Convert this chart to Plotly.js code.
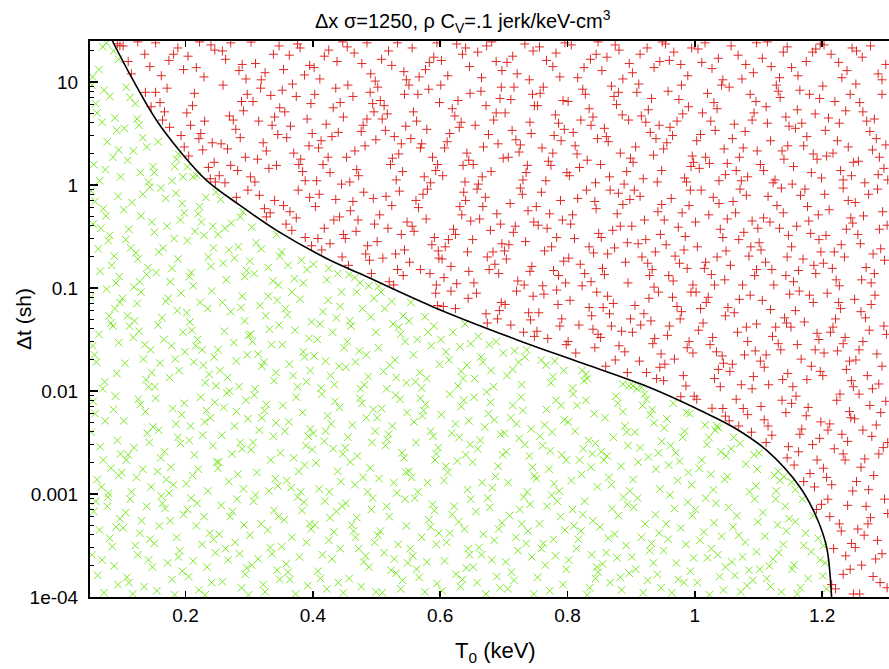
<!DOCTYPE html>
<html>
<head>
<meta charset="utf-8">
<script src="https://cdn.plot.ly/plotly-3.0.1.min.js"></script>
<style>
  html, body { margin: 0; padding: 0; background: #fff; }
  #chart { width: 889px; height: 669px; }
</style>
</head>
<body>
<div id="chart"></div>
<script>
// Sampled (T0 [keV], Δt [sh]) pairs below the stability boundary (green x)
const belowPts = [
  // T0 0.05-0.10
  [.053,2.57e-4],[.077,7.59e-4],[.094,1.32e-4],[.065,4.47e-4],[.088,2e-4],[.059,8.51e-4],[.081,3.72e-4],[.072,1.1e-4],[.097,5.75e-4],[.062,1.62e-4],[.085,3.09e-4],[.056,6.76e-4],[.091,4.79e-4],[.069,2.29e-4],[.078,9.33e-4],
  [.068,1.17e-3],[.093,3.31e-3],[.055,7.94e-3],[.083,1.78e-3],[.074,5.13e-3],[.098,2.45e-3],[.061,1.38e-3],[.087,6.61e-3],[.052,3.98e-3],[.079,1.02e-3],[.066,2.88e-3],[.090,8.91e-3],[.071,2.14e-3],[.058,6.03e-3],[.095,1.51e-3],
  [.086,.0427],[.060,.0191],[.097,.0724],[.073,.0123],[.054,.0275],[.080,.0537],[.064,.0355],[.092,.0148],[.076,.0977],[.057,.0224],[.089,.0631],[.070,.0105],[.083,.0457],[.051,.0813],[.095,.0295],
  [.063,.24],[.091,.112],[.075,.501],[.052,.871],[.084,.166],[.067,.38],[.096,.129],[.058,.692],[.079,.288],[.071,.589],[.088,.204],[.055,.417],[.094,.776],[.066,.145],[.081,.324],
  [.077,2.63],[.059,6.17],[.098,1.2],[.069,4.07],[.086,1.86],[.053,9.33],[.092,3.39],[.074,1.41],[.061,5.01],[.095,2.19],[.081,7.24],[.056,1.58],[.089,4.47],[.065,1.1],[.072,8.32],
  [.064,13.2],[.087,20],[.054,11.2],[.076,24],[.095,16.6],[.070,21.9],
  // T0 0.10-0.15
  [.131,5.5e-4],[.108,1.55e-4],[.144,3.63e-4],[.117,1.07e-4],[.139,7.59e-4],[.125,2.57e-4],[.102,4.68e-4],[.148,1.95e-4],[.113,8.91e-4],[.135,1.26e-4],[.121,3.16e-4],[.106,6.61e-4],[.142,2.29e-4],[.128,4.17e-4],[.111,1.38e-4],
  [.119,2.82e-3],[.146,1.17e-3],[.103,5.13e-3],[.133,1.74e-3],[.126,8.32e-3],[.110,2.4e-3],[.140,3.89e-3],[.115,1.05e-3],[.137,6.31e-3],[.123,1.45e-3],[.149,4.47e-3],[.107,2.14e-3],[.129,7.41e-3],[.143,3.16e-3],[.100,1.62e-3],
  [.138,.0129],[.112,.0427],[.145,.0251],[.124,.0708],[.105,.0186],[.130,.0912],[.118,.0331],[.142,.011],[.109,.0537],[.134,.0204],[.127,.038],[.101,.0794],[.147,.0151],[.120,.0479],[.136,.0282],
  [.116,.676],[.141,.158],[.106,.295],[.128,.115],[.147,.437],[.122,.219],[.133,.813],[.111,.372],[.139,.135],[.103,.575],[.125,.191],[.144,.955],[.114,.245],[.130,.501],[.119,.102],
  [.104,3.55],[.129,1.32],[.118,2.14],[.109,1.74],[.124,4.37],[.142,1.07],[.113,7.08],[.133,2.88],[.149,1.51],[.121,6.17],[.107,8.91],[.139,2.34],[.127,3.8],
  // T0 0.15-0.20
  [.172,2.14e-4],[.197,6.31e-4],[.155,1.15e-4],[.186,3.8e-4],[.164,8.13e-4],[.179,1.48e-4],[.191,2.82e-4],[.159,4.9e-4],[.183,1.05e-4],[.168,7.24e-4],[.195,1.78e-4],[.151,3.31e-4],[.176,5.5e-4],[.189,2.45e-4],[.162,9.55e-4],
  [.158,4.17e-3],[.181,1.23e-3],[.194,5.89e-3],[.167,2.57e-3],[.177,1.82e-3],[.153,8.51e-3],[.188,3.55e-3],[.170,1.38e-3],[.198,7.59e-3],[.161,2.24e-3],[.185,4.79e-3],[.174,1.02e-3],[.192,3.09e-3],[.156,1.66e-3],[.180,6.76e-3],
  [.190,.0158],[.163,.0513],[.178,.0275],[.152,.011],[.196,.0372],[.169,.0741],[.184,.0204],[.157,.0437],[.175,.0135],[.193,.0891],[.166,.0316],[.187,.0603],[.160,.0186],[.199,.024],[.173,.0794],
  [.182,.302],[.154,.141],[.195,.661],[.171,.398],[.161,.933],[.188,.191],[.176,.115],[.198,.537],[.165,.245],[.185,.832],[.151,.347],[.179,.155],[.192,.457],[.158,.224],[.169,.741],
  [.157,2.63],[.183,1.51],[.196,1.2],[.189,2],[.179,1.1],[.186,1.78],[.151,1.32],
  // T0 0.20-0.25
  [.226,3.24e-4],[.203,7.08e-4],[.241,1.38e-4],[.217,4.9e-4],[.234,1.95e-4],[.209,9.12e-4],[.247,2.69e-4],[.221,1.17e-4],[.238,4.17e-4],[.212,2.24e-4],[.229,6.03e-4],[.205,1.58e-4],[.244,3.63e-4],[.218,8.13e-4],[.231,1.05e-4],
  [.214,2.4e-3],[.239,5.5e-3],[.201,1.26e-3],[.227,3.72e-3],[.246,7.76e-3],[.220,1.74e-3],[.235,1.07e-3],[.208,4.57e-3],[.243,2.95e-3],[.224,8.71e-3],[.211,1.51e-3],[.233,6.46e-3],[.249,2.04e-3],[.206,3.31e-3],[.230,5.01e-3],
  [.237,.0145],[.210,.0389],[.223,.0724],[.245,.0214],[.202,.0575],[.231,.012],[.216,.0275],[.241,.0933],[.228,.0178],[.207,.0468],[.248,.0112],[.219,.0316],[.235,.0631],[.213,.0191],[.226,.0251],
  [.220,.525],[.244,.245],[.206,.129],[.232,.759],[.215,.355],[.240,.162],[.225,.437],[.203,.288],[.248,.851],[.212,.105],[.236,.2],[.222,.617],[.209,.141],[.229,.324],[.243,.398],
  [.218,1.23],[.203,1.5],[.212,1.2],
  // T0 0.25-0.30
  [.263,2.95e-4],[.288,1.23e-4],[.274,6.76e-4],[.296,1.91e-4],[.253,4.07e-4],[.281,8.91e-4],[.267,2.29e-4],[.292,5.01e-4],[.258,1.41e-4],[.278,3.39e-4],[.299,1.05e-4],[.270,6.03e-4],[.285,2.63e-4],[.256,7.76e-4],[.294,1.66e-4],
  [.277,4.57e-3],[.252,2.04e-3],[.295,8.13e-3],[.268,1.32e-3],[.286,3.16e-3],[.260,6.92e-3],[.291,1.12e-3],[.273,2.45e-3],[.298,5.37e-3],[.257,3.72e-3],[.282,1.55e-3],[.265,9.55e-3],[.289,2.75e-3],[.251,1.78e-3],[.280,6.31e-3],
  [.284,.011],[.261,.038],[.297,.0224],[.271,.0589],[.254,.0158],[.289,.0832],[.276,.0295],[.266,.0135],[.293,.0479],[.258,.0724],[.280,.0195],[.299,.0347],[.269,.01],[.287,.0646],[.251,.0251],
  [.272,.427],[.296,.148],[.255,.724],[.283,.251],[.264,.12],[.290,.55],[.277,.195],[.251,.331],[.268,.234],[.286,.49],[.259,.174],[.293,.129],[.262,.38],
  // T0 0.30-0.35
  [.319,5.13e-4],[.344,1.82e-4],[.307,8.51e-4],[.333,3.02e-4],[.325,1.12e-4],[.301,3.98e-4],[.339,6.92e-4],[.314,2.34e-4],[.348,1.48e-4],[.329,4.47e-4],[.310,9.77e-4],[.336,2.63e-4],[.322,1.32e-4],[.346,6.03e-4],[.304,2.04e-4],
  [.338,3.63e-3],[.312,1.62e-3],[.327,7.41e-3],[.303,2.69e-3],[.345,1.2e-3],[.320,5.5e-3],[.334,2.14e-3],[.308,9.12e-3],[.341,1.41e-3],[.316,4.17e-3],[.349,2.51e-3],[.324,6.46e-3],[.331,1.07e-3],[.306,3.16e-3],[.342,4.9e-3],
  [.323,.0191],[.347,.0437],[.309,.0105],[.335,.0282],[.317,.0676],[.342,.0151],[.302,.0355],[.330,.0832],[.314,.0229],[.339,.0126],[.326,.0537],[.305,.0302],[.344,.0759],[.320,.0174],[.332,.0398],
  [.311,.275],[.337,.117],[.348,.204],[.304,.389],[.330,.158],[.343,.331],[.308,.138],[.319,.24],[.346,.107],[.301,.182],
  // T0 0.35-0.40
  [.379,2.45e-4],[.355,5.62e-4],[.392,1.29e-4],[.367,3.8e-4],[.386,8.32e-4],[.361,1.74e-4],[.397,4.57e-4],[.373,1.07e-4],[.351,3.09e-4],[.383,6.92e-4],[.364,1.48e-4],[.390,3.39e-4],[.376,9.33e-4],[.358,2.09e-4],[.395,5.13e-4],
  [.366,1.15e-3],[.389,2.95e-3],[.353,7.24e-3],[.378,1.66e-3],[.396,4.27e-3],[.370,2.24e-3],[.384,6.17e-3],[.359,1.35e-3],[.393,3.63e-3],[.374,8.71e-3],[.387,1.91e-3],[.362,5.01e-3],[.399,2.69e-3],[.381,1.05e-3],[.356,4.07e-3],
  [.394,.0324],[.369,.0141],[.357,.0631],[.385,.024],[.376,.011],[.398,.0468],[.363,.0182],[.380,.0776],[.352,.0282],[.390,.0123],[.372,.0389],[.360,.055],[.387,.0214],[.367,.0912],[.396,.0158],
  [.382,.186],[.371,.123],[.351,.224],[.391,.151],[.385,.112],[.361,.166],
  // T0 0.40-0.45
  [.437,6.76e-4],[.412,1.51e-4],[.425,3.55e-4],[.448,1.1e-4],[.403,5.01e-4],[.430,2.34e-4],[.419,8.51e-4],[.443,2.95e-4],[.408,1.78e-4],[.433,4.27e-4],[.422,1.2e-4],[.446,7.59e-4],[.415,2.57e-4],[.440,1.38e-4],[.427,5.89e-4],
  [.405,2e-3],[.429,4.79e-3],[.444,1.32e-3],[.418,3.24e-3],[.435,7.94e-3],[.410,1.12e-3],[.447,2.45e-3],[.423,5.75e-3],[.401,3.89e-3],[.439,1.66e-3],[.414,9.33e-3],[.432,2.75e-3],[.426,1.05e-3],[.442,6.92e-3],[.420,4.07e-3],
  [.416,.0589],[.441,.0174],[.407,.0316],[.434,.0115],[.424,.0759],[.449,.0263],[.411,.0447],[.428,.0141],[.445,.0912],[.402,.0219],[.437,.0513],[.420,.0195],[.431,.0372],[.413,.0107],[.443,.0661],
  [.439,.138],[.422,.12],[.401,.17],[.425,.155],
  // T0 0.45-0.50
  [.464,4.37e-4],[.488,1.95e-4],[.452,8.13e-4],[.476,1.26e-4],[.497,3.39e-4],[.469,5.89e-4],[.483,2.51e-4],[.457,1.51e-4],[.492,7.08e-4],[.472,2.95e-4],[.499,1.12e-4],[.461,5.01e-4],[.480,2.19e-4],[.494,9.12e-4],[.467,3.8e-4],
  [.479,1.45e-3],[.455,3.55e-3],[.495,6.61e-3],[.470,2.34e-3],[.486,1.05e-3],[.462,4.68e-3],[.490,1.78e-3],[.474,8.51e-3],[.451,2.82e-3],[.484,5.5e-3],[.466,1.23e-3],[.498,4.07e-3],[.459,2.04e-3],[.477,7.59e-3],[.493,3.16e-3],
  [.491,.0525],[.467,.0191],[.481,.0115],[.454,.0302],[.496,.0794],[.473,.0245],[.460,.0427],[.487,.0138],[.478,.0631],[.452,.017],[.499,.0372],[.469,.0912],[.484,.0224],[.458,.0479],[.475,.0105],
  [.474,.112],[.466,.126],[.457,.135],[.488,.105],
  // T0 0.50-0.55
  [.523,1.82e-4],[.547,4.9e-4],[.509,1.1e-4],[.534,3.24e-4],[.516,7.59e-4],[.541,1.45e-4],[.502,3.98e-4],[.528,2.34e-4],[.545,8.91e-4],[.512,2.69e-4],[.538,1.2e-4],[.520,6.03e-4],[.531,1.7e-4],[.506,4.37e-4],[.549,2.14e-4],
  [.537,8.32e-3],[.514,2.95e-3],[.527,1.29e-3],[.501,5.5e-3],[.543,2.24e-3],[.519,3.8e-3],[.532,1.02e-3],[.508,6.76e-3],[.546,1.62e-3],[.525,4.57e-3],[.540,2.51e-3],[.504,1.41e-3],[.530,9.12e-3],[.517,3.39e-3],[.548,6.17e-3],
  [.511,.0155],[.535,.0417],[.524,.0741],[.547,.012],[.503,.0263],[.529,.02],[.542,.0537],[.516,.0105],[.538,.0355],[.507,.0912],[.521,.0178],[.545,.0302],[.513,.0631],[.531,.0135],[.526,.0447],
  [.503,.104],
  // T0 0.55-0.60
  [.582,5.62e-4],[.557,2.51e-4],[.595,1.35e-4],[.571,3.8e-4],[.588,7.94e-4],[.563,1.86e-4],[.598,4.17e-4],[.576,1.12e-4],[.553,2.95e-4],[.591,6.92e-4],[.567,1.55e-4],[.585,4.79e-4],[.560,9.12e-4],[.579,2.19e-4],[.594,3.24e-4],
  [.565,1.05e-3],[.589,3.63e-3],[.574,6.46e-3],[.551,1.66e-3],[.597,2.82e-3],[.580,1.29e-3],[.559,5.01e-3],[.592,2.14e-3],[.569,8.51e-3],[.585,4.07e-3],[.555,1.45e-3],[.577,7.41e-3],[.594,2.45e-3],[.562,3.16e-3],[.572,5.75e-3],
  [.586,.0275],[.561,.0123],[.576,.0525],[.599,.0182],[.554,.0724],[.581,.0372],[.568,.0151],[.558,.0224],[.590,.0427],[.571,.0107],[.564,.0316],[.579,.0132],[.551,.0479],
  // T0 0.60-0.65
  [.610,3.39e-4],[.635,1.48e-4],[.622,7.59e-4],[.646,2.57e-4],[.603,1.15e-4],[.629,5.37e-4],[.641,1.91e-4],[.615,4.17e-4],[.648,8.91e-4],[.607,2.24e-4],[.632,1.26e-4],[.619,6.31e-4],[.644,2.95e-4],[.625,1.66e-4],[.638,4.57e-4],
  [.627,2.09e-3],[.602,5.89e-3],[.643,1.1e-3],[.618,3.89e-3],[.637,8.13e-3],[.612,1.62e-3],[.647,3.02e-3],[.624,4.79e-3],[.606,1.35e-3],[.633,7.08e-3],[.640,2.4e-3],[.615,9.33e-3],[.630,3.55e-3],[.609,1.86e-3],[.645,5.13e-3],
  [.639,.0447],[.614,.02],[.628,.0112],[.648,.0288],[.633,.0155],[.620,.0372],[.609,.024],[.636,.0132],[.601,.0316],[.642,.0178],[.631,.0269],
  // T0 0.65-0.70
  [.694,1.23e-4],[.668,4.07e-4],[.681,2.29e-4],[.656,6.76e-4],[.689,1.58e-4],[.675,9.12e-4],[.661,3.02e-4],[.697,5.25e-4],[.672,1.07e-4],[.685,3.55e-4],[.652,1.95e-4],[.678,7.41e-4],[.665,2.57e-4],[.692,4.57e-4],[.658,1.38e-4],
  [.663,3.31e-3],[.687,1.48e-3],[.676,6.03e-3],[.698,2.4e-3],[.653,8.71e-3],[.682,1.15e-3],[.670,4.47e-3],[.691,1.86e-3],[.659,2.75e-3],[.679,7.76e-3],[.695,3.8e-3],[.666,1.29e-3],[.685,5.25e-3],[.651,2.04e-3],[.673,9.77e-3],
  [.677,.0282],[.654,.0132],[.667,.0191],[.660,.0339],[.684,.011],[.699,.0234],[.680,.0158],[.664,.0214],[.688,.0302],
  // T0 0.70-0.75
  [.728,5.13e-4],[.703,2.19e-4],[.741,7.94e-4],[.716,1.45e-4],[.735,3.31e-4],[.709,6.17e-4],[.747,1.07e-4],[.722,2.82e-4],[.738,4.37e-4],[.712,1.74e-4],[.731,9.33e-4],[.744,2.45e-4],[.719,3.8e-4],[.706,1.2e-4],[.725,7.08e-4],
  [.745,1.82e-3],[.720,4.79e-3],[.707,1.29e-3],[.733,3.02e-3],[.714,7.24e-3],[.740,2.34e-3],[.701,3.89e-3],[.727,8.71e-3],[.748,1.51e-3],[.711,5.5e-3],[.737,1.05e-3],[.724,3.47e-3],[.704,2.57e-3],[.730,6.46e-3],[.743,4.27e-3],
  [.717,.0245],[.705,.0141],[.723,.0191],[.736,.0251],[.728,.0115],[.714,.0162],[.733,.0214],
  // T0 0.75-0.80
  [.784,8.51e-4],[.759,2.95e-4],[.772,1.15e-4],[.796,4.47e-4],[.765,2.04e-4],[.789,6.03e-4],[.753,1.55e-4],[.778,3.63e-4],[.793,1.32e-4],[.768,7.59e-4],[.781,2.51e-4],[.756,5.13e-4],[.798,1.86e-4],[.775,9.77e-4],[.762,3.31e-4],
  [.751,1.41e-3],[.776,3.98e-3],[.791,2.4e-3],[.767,6.61e-3],[.787,1.07e-3],[.761,2.95e-3],[.795,5.25e-3],[.771,1.74e-3],[.782,8.13e-3],[.757,3.63e-3],[.798,2.14e-3],[.779,1.26e-3],[.764,4.68e-3],[.790,7.24e-3],[.773,2.63e-3],
  [.794,.0158],[.780,.0195],[.774,.012],[.759,.02],[.777,.0138],[.766,.0178],
  // T0 0.80-0.85
  [.821,4.37e-4],[.846,1.95e-4],[.808,7.08e-4],[.835,1.23e-4],[.814,2.95e-4],[.840,5.5e-4],[.802,2.29e-4],[.827,8.51e-4],[.844,1.51e-4],[.817,3.63e-4],[.831,1.05e-4],[.810,4.9e-4],[.838,2.57e-4],[.824,6.31e-4],[.848,1.74e-4],
  [.833,3.31e-3],[.806,1.35e-3],[.842,6.03e-3],[.819,2.14e-3],[.829,8.13e-3],[.812,4.07e-3],[.847,1.17e-3],[.825,2.75e-3],[.801,5.01e-3],[.837,1.82e-3],[.815,7.24e-3],[.844,3.09e-3],[.822,1.55e-3],[.809,9.33e-3],[.839,2.45e-3],
  [.826,.0126],[.831,.0132],[.808,.0107],[.823,.0158],[.829,.0145],
  // T0 0.85-0.90
  [.892,3.16e-4],[.867,1.38e-4],[.880,6.17e-4],[.855,2.09e-4],[.888,9.33e-4],[.874,4.07e-4],[.897,1.7e-4],[.861,2.69e-4],[.885,1.17e-4],[.870,7.24e-4],[.851,4.79e-4],[.878,2.4e-4],[.894,7.94e-4],[.864,3.72e-4],[.883,1.55e-4],
  [.859,5.5e-3],[.884,1.86e-3],[.872,3.55e-3],[.898,1.07e-3],[.853,2.57e-3],[.879,7.59e-3],[.890,4.57e-3],[.865,1.45e-3],[.895,2.95e-3],[.876,8.91e-3],[.857,2.14e-3],[.887,6.31e-3],[.869,1.23e-3],[.893,3.98e-3],[.862,2.34e-3],
  [.887,.0117],[.897,.0112],
  // T0 0.90-0.95
  [.916,3.8e-4],[.941,1.66e-4],[.904,7.41e-4],[.929,2.82e-4],[.947,1.23e-4],[.922,5.13e-4],[.935,2.14e-4],[.910,9.12e-4],[.944,4.17e-4],[.926,1.45e-4],[.901,2.45e-4],[.938,6.31e-4],[.919,1.1e-4],[.932,3.31e-4],[.907,1.86e-4],
  [.936,4.9e-3],[.911,2.04e-3],[.924,8.32e-3],[.948,3.24e-3],[.903,1.38e-3],[.930,5.89e-3],[.943,2.51e-3],[.918,7.24e-3],[.906,3.98e-3],[.939,1.74e-3],[.921,9.33e-3],[.945,1.12e-3],[.914,2.82e-3],[.933,6.61e-3],[.927,2.29e-3],
  [.909,.0105],[.903,.0112],[.916,.0108],
  // T0 0.95-1.00
  [.983,1.38e-4],[.958,3.63e-4],[.996,6.17e-4],[.971,2.14e-4],[.989,8.32e-4],[.964,1.1e-4],[.978,4.68e-4],[.951,2.82e-4],[.993,1.78e-4],[.968,7.24e-4],[.986,3.24e-4],[.955,5.13e-4],[.974,1.48e-4],[.998,2.4e-4],[.961,9.77e-4],
  [.970,2.51e-3],[.995,1.23e-3],[.956,5.37e-3],[.981,3.55e-3],[.966,7.59e-3],[.990,1.62e-3],[.952,4.37e-3],[.976,2.09e-3],[.962,2.95e-3],[.987,6.17e-3],[.973,1.35e-3],[.959,1.91e-3],[.984,4.07e-3],[.992,6.03e-3],
  // T0 1.00-1.05
  [1.026,2.95e-4],[1.001,7.08e-4],[1.039,1.58e-4],[1.014,4.27e-4],[1.045,1.17e-4],[1.020,2.4e-4],[1.033,8.13e-4],[1.008,3.55e-4],[1.048,1.95e-4],[1.030,5.25e-4],[1.004,1.38e-4],[1.042,3.89e-4],[1.017,9.12e-4],[1.023,1.05e-4],[1.036,2.57e-4],
  [1.011,2.14e-3],[1.035,4.57e-3],[1.047,1.38e-3],[1.022,3.55e-3],[1.029,1.1e-3],[1.041,2.57e-3],[1.016,4.68e-3],[1.007,1.78e-3],[1.019,3.02e-3],[1.032,4.17e-3],[1.049,2.34e-3],[1.025,1.55e-3],[1.037,4.37e-3],
  // T0 1.05-1.10
  [1.085,1.82e-4],[1.060,4.79e-4],[1.097,2.75e-4],[1.072,1.12e-4],[1.053,7.41e-4],[1.079,3.39e-4],[1.091,1.45e-4],[1.066,6.17e-4],[1.058,2.19e-4],[1.094,8.91e-4],[1.069,3.98e-4],[1.082,1.29e-4],[1.099,5.37e-4],[1.075,2.45e-4],[1.063,1.62e-4],
  [1.071,3.09e-3],[1.096,1.2e-3],[1.080,1.95e-3],[1.051,1.48e-3],[1.093,2.4e-3],[1.061,3.55e-3],[1.086,1.05e-3],[1.098,1.74e-3],[1.057,2.75e-3],
  // T0 1.10-1.15
  [1.107,6.61e-4],[1.132,2.69e-4],[1.119,1.26e-4],[1.144,4.37e-4],[1.102,1.86e-4],[1.127,8.91e-4],[1.139,3.24e-4],[1.113,1.51e-4],[1.148,5.75e-4],[1.123,2.34e-4],[1.136,1.12e-4],[1.110,3.89e-4],[1.142,7.59e-4],[1.117,2e-4],[1.130,5.01e-4],
  [1.140,1.48e-3],[1.128,1.07e-3],[1.134,1.35e-3],[1.101,2.51e-3],[1.125,1.51e-3],[1.131,1.66e-3],
  // T0 1.15-1.21
  [1.174,4.17e-4],[1.153,1.86e-4],[1.166,1.23e-4],[1.183,2.75e-4],[1.158,5.37e-4],[1.197,2.29e-4],[1.169,8.91e-4],[1.178,1.51e-4],[1.194,3.72e-4],[1.161,1.07e-4],[1.186,6.17e-4],[1.171,3.16e-4],[1.156,2.04e-4],
  [1.152,1.3e-3],[1.158,1.1e-3],
  [1.205,2.14e-4],[1.202,3.16e-4],[1.207,1.2e-4],[1.201,1.6e-4]
];

// Sampled (T0 [keV], Δt [sh]) pairs above the stability boundary (red +)
const abovePts = [
  // T0 0.09-0.15
  [.097,22.5],[.093,23.5],
  [.146,5.75],[.137,7.94],
  [.115,12],[.136,18.6],[.102,22.4],[.144,14.1],[.125,24.5],[.110,15.8],
  // T0 0.15-0.20
  [.167,5.13],[.175,3.63],[.153,7.94],[.164,4.27],[.193,3.02],[.160,6.31],[.171,8.71],[.198,2.34],
  [.162,11.5],[.188,21.4],[.174,16.2],[.197,13.2],[.153,24],[.181,18.6],
  // T0 0.20-0.25
  [.205,1.91],[.230,4.17],[.242,2.57],[.211,5.89],[.236,1.48],[.224,3.16],[.247,1.07],[.202,5.01],[.227,2.19],[.214,7.76],[.239,1.15],[.221,2.82],[.245,1.66],[.208,3.8],
  [.217,13.8],[.240,22.9],[.204,17.8],[.229,11.2],[.246,20.4],[.222,24.5],
  // T0 0.25-0.30
  [.298,.891],[.280,.759],
  [.266,2.24],[.291,5.25],[.253,1.23],[.279,3.47],[.297,7.59],[.271,1.55],[.286,2.88],[.259,9.33],[.294,1.86],[.275,4.27],[.262,1.05],[.288,6.46],[.282,1.38],[.256,2.51],[.269,4.68],
  [.258,20],[.284,12.9],[.271,24],[.295,10.7],[.263,16.6],[.289,14.8],
  // T0 0.30-0.35
  [.324,.589],[.316,.794],[.333,.537],[.327,.49],[.340,.708],
  [.306,6.46],[.331,1.45],[.345,3.09],[.318,8.71],[.327,2.14],[.340,4.57],[.302,1.2],[.336,3.8],[.313,1.78],[.348,5.62],[.322,2.57],[.309,1.07],[.334,7.41],[.343,1.55],[.315,4.17],
  [.325,12.3],[.347,22.4],[.310,15.1],[.338,18.6],[.303,24.4],[.319,10.5],
  // T0 0.35-0.40
  [.358,.417],[.395,.759],[.388,.309],[.364,.55],[.377,.891],[.367,.363],[.398,.257],[.354,.631],[.374,.479],
  [.384,1.35],[.359,2.88],[.397,6.17],[.370,2.04],[.391,4.37],[.352,8.32],[.378,1.58],[.365,3.72],[.388,1.1],[.374,7.24],[.394,2.4],[.356,5.13],[.381,1.78],[.368,9.55],[.399,3.16],
  [.363,18.2],[.387,11.7],[.376,23.4],[.395,14.5],[.354,13.2],[.380,21.4],
  // T0 0.40-0.45
  [.427,.269],[.404,.617],[.418,.38],[.446,.2],[.410,.813],[.433,.457],[.448,.331],[.436,.724],[.414,.234],[.442,.49],[.408,.302],
  [.421,3.89],[.445,1.02],[.409,2.29],[.432,5.62],[.416,1.58],[.440,3.24],[.403,7.59],[.427,1.32],[.448,4.57],[.413,2.69],[.436,8.71],[.424,1.86],[.406,1.1],[.443,6.31],[.430,2.95],
  [.438,15.8],[.411,10.7],[.425,20.4],[.447,24.5],[.402,13.8],[.418,17.8],
  // T0 0.45-0.50
  [.463,.692],[.486,.257],[.497,.417],[.456,.166],[.480,.851],[.468,.355],[.492,.138],[.459,.562],[.483,.214],[.451,.302],[.495,.741],[.471,.457],[.489,.186],
  [.458,1.07],[.482,2.4],[.496,5.13],[.469,1.41],[.490,7.94],[.476,3.31],[.453,1.86],[.485,4.37],[.463,7.24],[.499,2.75],[.472,1.23],[.494,6.17],[.466,2.14],[.479,3.8],[.455,9.33],
  [.477,15.1],[.454,21.9],[.491,12],[.465,19.1],[.485,24],[.498,10.2],
  // T0 0.50-0.55
  [.520,.115],[.544,.234],[.505,.513],[.533,.151],[.515,.776],[.539,.331],[.527,.107],[.548,.437],[.510,.195],[.536,.871],[.501,.282],[.524,.631],[.542,.132],[.518,.38],[.530,.214],
  [.528,2.95],[.506,6.61],[.541,1.35],[.517,4.9],[.535,2],[.502,8.91],[.546,3.72],[.522,1.58],[.512,5.89],[.539,2.51],[.531,1.12],[.509,4.37],[.544,7.59],[.525,1.82],[.514,3.39],
  [.519,20],[.543,12.6],[.508,16.6],[.533,24],[.547,10.5],[.524,14.5],
  // T0 0.55-0.60
  [.593,.0891],[.596,.0676],
  [.573,.813],[.597,.229],[.556,.398],[.584,.138],[.566,.603],[.591,.309],[.552,.178],[.578,.468],[.594,.107],[.562,.708],[.587,.263],[.569,.151],[.580,.912],[.559,.355],[.598,.195],
  [.563,4.17],[.588,1.86],[.575,1.2],[.599,6.31],[.554,2.82],[.582,8.51],[.569,2.29],[.593,1.38],[.558,5.13],[.579,3.47],[.596,1.58],[.565,7.59],[.585,1.05],[.571,2.51],[.551,9.33],
  [.577,13.2],[.556,21.4],[.590,17.4],[.567,11.2],[.595,24],[.583,15.5],
  // T0 0.60-0.65
  [.605,.0661],[.644,.0794],[.624,.0631],[.617,.0933],
  [.608,.251],[.631,.617],[.645,.145],[.621,.372],[.637,.851],[.603,.191],[.626,.11],[.648,.447],[.613,.295],[.640,.708],[.617,.162],[.634,.513],[.606,.126],[.643,.224],[.624,.331],
  [.619,5.5],[.642,2.04],[.604,1.23],[.630,3.63],[.647,7.76],[.611,2.63],[.636,1.55],[.623,4.68],[.601,9.33],[.639,1.07],[.615,3.16],[.645,1.74],[.628,6.61],[.607,2.29],[.633,4.07],
  [.635,18.6],[.612,11.5],[.626,23.4],[.646,14.1],[.602,16.2],[.640,21.4],
  // T0 0.65-0.70
  [.690,.0501],[.696,.0724],[.672,.0562],[.657,.0891],[.693,.0603],[.674,.0457],
  [.686,.17],[.662,.468],[.697,.269],[.671,.759],[.653,.112],[.679,.363],[.692,.138],[.667,.617],[.683,.224],[.658,.912],[.695,.417],[.674,.2],[.689,.525],[.651,.295],[.677,.151],
  [.655,3.8],[.680,1.35],[.694,6.92],[.668,2.34],[.688,5.01],[.660,1.02],[.676,3.09],[.699,1.82],[.664,8.13],[.684,4.27],[.652,1.58],[.672,5.89],[.691,2.51],[.666,1.2],[.696,8.91],
  [.673,22.4],[.697,12.9],[.659,19.5],[.688,15.8],[.665,11],[.681,24.5],
  // T0 0.70-0.75
  [.739,.0575],[.731,.0372],[.746,.0832],[.711,.0437],[.702,.0692],[.742,.049],[.748,.0339],[.720,.0933],
  [.710,.661],[.734,.282],[.722,.117],[.747,.437],[.704,.191],[.729,.813],[.741,.145],[.715,.347],[.738,.562],[.701,.229],[.726,.933],[.744,.162],[.718,.398],[.732,.107],[.708,.263],
  [.737,1.55],[.713,3.39],[.745,7.59],[.724,2.09],[.702,5.01],[.730,1.12],[.719,2.75],[.748,5.89],[.707,1.86],[.741,4.07],[.716,8.91],[.735,1.32],[.726,2.45],[.711,6.76],[.743,3.16],
  [.721,12],[.746,20],[.705,15.5],[.733,23.4],[.714,17.8],[.740,10.5],
  // T0 0.75-0.80
  [.769,.0324],[.755,.0575],[.763,.0871],[.788,.0427],[.798,.0282],[.785,.0692],[.752,.038],[.791,.0501],[.783,.0955],
  [.778,.148],[.754,.407],[.789,.708],[.764,.229],[.797,.112],[.772,.525],[.783,.309],[.759,.851],[.794,.182],[.768,.38],[.786,.132],[.751,.617],[.775,.251],[.792,.457],[.761,.105],
  [.795,3.47],[.770,1.7],[.757,7.76],[.781,4.79],[.766,1.1],[.790,2.69],[.753,5.89],[.777,2.04],[.799,1.32],[.762,8.91],[.786,3.98],[.774,1.55],[.760,2.29],[.793,6.61],[.779,3.02],
  [.767,16.2],[.788,11.2],[.756,21.9],[.777,14.1],[.796,24],[.782,19.1],
  // T0 0.80-0.85
  [.813,.0234],[.838,.0537],[.848,.0355],[.804,.0759],[.818,.0437],[.843,.0263],[.834,.0646],[.846,.0912],[.801,.0302],[.840,.0398],
  [.837,.115],[.811,.302],[.845,.589],[.820,.17],[.830,.891],[.805,.417],[.841,.219],[.816,.741],[.827,.138],[.849,.339],[.808,.513],[.834,.251],[.823,.105],[.802,.195],[.843,.692],
  [.815,2],[.840,4.57],[.803,1.23],[.828,7.59],[.847,2.82],[.819,1.48],[.834,5.5],[.809,3.24],[.844,1.05],[.824,8.51],[.812,2.4],[.837,3.8],[.801,6.46],[.831,1.74],[.821,4.27],
  [.826,13.8],[.806,22.9],[.845,18.6],[.816,11],[.836,16.6],[.848,24.5],
  // T0 0.85-0.90
  [.881,.0275],[.856,.0646],[.894,.0151],[.869,.0427],[.863,.0832],[.875,.02],[.899,.0501],[.852,.0331],[.890,.024],[.872,.0708],[.860,.0174],[.885,.038],[.866,.0562],
  [.874,.245],[.898,.724],[.858,.135],[.883,.398],[.867,.891],[.891,.178],[.853,.309],[.878,.525],[.895,.112],[.863,.214],[.887,.646],[.871,.363],[.855,.155],[.880,.832],[.894,.275],
  [.889,1.02],[.864,2.63],[.877,6.03],[.852,1.58],[.896,4.27],[.869,9.12],[.883,2.04],[.858,3.55],[.893,1.35],[.873,7.24],[.861,2.95],[.886,4.79],[.899,1.82],[.866,1.2],[.880,7.94],
  [.862,17.4],[.887,10.7],[.875,22.9],[.897,15.1],[.854,12.9],[.881,20.4],
  // T0 0.90-0.95
  [.934,.0288],[.920,.0562],[.945,.017],[.902,.0372],[.928,.0794],[.940,.0132],[.915,.0437],[.947,.0229],[.924,.0151],[.906,.0676],[.937,.0324],[.913,.0195],[.931,.0479],[.943,.0912],
  [.942,.55],[.917,.2],[.905,.891],[.929,.132],[.946,.331],[.921,.457],[.936,.102],[.911,.269],[.948,.646],[.926,.174],[.901,.398],[.938,.224],[.914,.776],[.933,.151],[.923,.295],
  [.907,2.34],[.932,6.92],[.919,1.15],[.944,3.8],[.903,1.66],[.927,5.37],[.939,2.82],[.912,9.55],[.948,1.38],[.923,4.07],[.935,1.95],[.909,7.94],[.941,1.07],[.916,4.68],[.930,3.24],
  [.925,21.4],[.902,12.3],[.945,15.8],[.914,18.6],[.936,13.8],[.949,24.5],
  // T0 0.95-1.00
  [.999,.0089],[.978,.0088],
  [.977,.0501],[.953,.0182],[.991,.0302],[.965,.0813],[.986,.0112],[.960,.0427],[.997,.0234],[.972,.0661],[.982,.0141],[.957,.0347],[.994,.0912],[.968,.0204],[.979,.0589],[.988,.0263],[.951,.0126],
  [.963,.741],[.988,.155],[.974,.389],[.997,.107],[.955,.263],[.980,.537],[.969,.204],[.993,.891],[.959,.132],[.985,.316],[.952,.457],[.976,.174],[.991,.631],[.966,.117],[.983,.234],
  [.972,4.17],[.996,1.91],[.958,8.13],[.984,1.17],[.965,3.02],[.990,5.75],[.951,2.24],[.979,9.33],[.994,1.51],[.961,3.63],[.987,1.07],[.975,6.76],[.956,2.57],[.981,4.9],[.998,1.66],
  [.989,11.5],[.967,19.5],[.954,23.4],[.978,14.8],[.995,21.4],[.960,16.2],
  // T0 1.00-1.05
  [1.003,8.32e-3],[1.044,6.76e-3],[1.027,6.8e-3],[1.048,5.7e-3],
  [1.018,.0724],[1.043,.0219],[1.006,.0389],[1.031,.0132],[1.048,.0537],[1.024,.0282],[1.002,.0912],[1.037,.0162],[1.013,.0457],[1.040,.011],[1.028,.0331],[1.009,.0631],[1.045,.0186],[1.021,.0813],[1.034,.024],
  [1.040,.372],[1.015,.155],[1.029,.759],[1.004,.251],[1.047,.12],[1.022,.513],[1.035,.2],[1.010,.891],[1.044,.309],[1.026,.135],[1.001,.437],[1.038,.661],[1.017,.178],[1.031,.107],[1.049,.229],
  [1.007,1.45],[1.032,3.39],[1.020,7.76],[1.046,2.24],[1.012,5.01],[1.038,1.1],[1.025,4.17],[1.003,2.69],[1.042,9.33],[1.017,1.86],[1.030,6.31],[1.048,1.26],[1.009,3.09],[1.035,5.5],[1.023,1.62],
  [1.027,13.5],[1.005,20.9],[1.044,10.5],[1.016,24],[1.037,17],[1.011,15.5],
  // T0 1.05-1.10
  [1.054,5.13e-3],[1.065,8.32e-3],[1.089,3.98e-3],[1.076,6.76e-3],[1.069,4.57e-3],[1.083,5.89e-3],
  [1.078,.0224],[1.052,.0646],[1.092,.0138],[1.067,.0372],[1.087,.0851],[1.059,.0182],[1.097,.0447],[1.073,.0115],[1.083,.0302],[1.062,.0575],[1.095,.0245],[1.070,.0776],[1.055,.0155],[1.081,.0417],[1.090,.0105],
  [1.064,.537],[1.088,.251],[1.075,.107],[1.099,.38],[1.056,.166],[1.081,.794],[1.069,.295],[1.094,.132],[1.051,.468],[1.085,.204],[1.060,.692],[1.077,.347],[1.097,.151],[1.071,.912],[1.090,.447],
  [1.083,1.2],[1.059,2.82],[1.096,6.46],[1.070,1.86],[1.090,4.27],[1.054,8.91],[1.076,2.29],[1.065,1.38],[1.093,5.01],[1.079,3.31],[1.051,1.62],[1.087,7.59],[1.062,3.89],[1.098,2.14],[1.073,1.1],
  [1.068,18.2],[1.092,12.3],[1.057,22.4],[1.080,14.8],[1.097,24],[1.074,10.7],
  // T0 1.10-1.15
  [1.115,4.57e-3],[1.147,2.88e-3],[1.104,7.08e-3],[1.121,3.72e-3],[1.145,2.24e-3],[1.109,5.25e-3],[1.137,8.13e-3],[1.143,6.17e-3],[1.112,3.16e-3],
  [1.122,.0339],[1.146,.0148],[1.106,.0759],[1.135,.0251],[1.116,.0115],[1.141,.0513],[1.103,.0195],[1.127,.0417],[1.149,.0871],[1.112,.0224],[1.138,.0129],[1.119,.0617],[1.131,.0288],[1.109,.017],[1.144,.0457],
  [1.129,.631],[1.104,.234],[1.143,.132],[1.118,.437],[1.136,.933],[1.111,.178],[1.147,.324],[1.124,.107],[1.139,.537],[1.101,.275],[1.133,.38],[1.115,.776],[1.145,.2],[1.121,.151],[1.108,.479],
  [1.137,2.14],[1.112,5.75],[1.126,1.12],[1.148,3.72],[1.103,1.58],[1.131,8.13],[1.119,2.69],[1.143,4.57],[1.108,1.38],[1.134,7.08],[1.123,1.05],[1.146,2.4],[1.114,3.98],[1.140,1.78],[1.128,9.33],
  [1.120,14.1],[1.145,21.9],[1.106,17],[1.133,11],[1.114,24.5],[1.139,19.5],
  // T0 1.15-1.20
  [1.191,7.08e-4],[1.199,7.94e-4],
  [1.163,2.57e-3],[1.188,1.17e-3],[1.175,5.75e-3],[1.196,3.47e-3],[1.152,7.59e-3],[1.181,1.58e-3],[1.168,4.27e-3],[1.192,2.14e-3],[1.159,8.91e-3],[1.185,3.02e-3],[1.171,1.32e-3],[1.198,5.01e-3],[1.156,1.91e-3],[1.178,6.92e-3],[1.165,3.8e-3],
  [1.186,.0724],[1.161,.0282],[1.197,.0155],[1.172,.0468],[1.154,.011],[1.180,.0851],[1.167,.0204],[1.192,.0363],[1.158,.0603],[1.176,.0129],[1.189,.0251],[1.151,.0417],[1.183,.0174],[1.164,.0933],[1.195,.0316],
  [1.170,.191],[1.194,.513],[1.155,.115],[1.182,.339],[1.166,.794],[1.190,.138],[1.152,.251],[1.177,.617],[1.198,.224],[1.160,.398],[1.187,.166],[1.173,.912],[1.195,.295],[1.163,.148],[1.179,.447],
  [1.158,3.55],[1.183,1.32],[1.196,6.92],[1.171,2.4],[1.189,4.9],[1.153,1.02],[1.176,2.95],[1.165,8.32],[1.192,1.78],[1.161,5.37],[1.186,2],[1.199,1.17],[1.168,3.98],[1.180,7.59],[1.155,1.51],
  [1.175,15.8],[1.197,23.4],[1.162,11.5],[1.185,19.5],[1.152,13.8],[1.190,20.9],
  // T0 1.20-1.25
  [1.227,5.13e-4],[1.240,7.76e-4],[1.215,1.32e-4],[1.246,3.31e-4],[1.209,8.91e-4],[1.233,1.66e-4],[1.221,1.2e-4],[1.237,2.51e-4],[1.212,6.03e-4],[1.244,1.86e-4],[1.218,2.95e-4],[1.230,4.37e-4],[1.249,1.07e-4],
  [1.219,2.75e-3],[1.243,6.31e-3],[1.207,1.45e-3],[1.231,3.8e-3],[1.248,1.07e-3],[1.223,8.13e-3],[1.236,2.14e-3],[1.212,4.79e-3],[1.202,1.78e-3],[1.240,3.24e-3],[1.228,9.33e-3],[1.215,1.23e-3],[1.245,5.5e-3],[1.233,2.45e-3],[1.209,4.17e-3],
  [1.238,.0162],[1.213,.0372],[1.226,.0724],[1.203,.0234],[1.246,.0126],[1.221,.0501],[1.233,.0288],[1.208,.0891],[1.243,.0195],[1.217,.0417],[1.249,.011],[1.229,.0631],[1.201,.0141],[1.236,.0331],[1.224,.0245],
  [1.211,.575],[1.235,.2],[1.248,.427],[1.222,.12],[1.204,.813],[1.230,.263],[1.216,.155],[1.241,.708],[1.206,.324],[1.227,.105],[1.245,.479],[1.219,.224],[1.233,.933],[1.202,.174],[1.238,.372],
  [1.229,1.38],[1.205,3.39],[1.244,7.59],[1.217,2.04],[1.237,5.25],[1.201,9.12],[1.224,2.69],[1.249,1.66],[1.210,4.47],[1.233,1.12],[1.220,6.46],[1.241,2.34],[1.207,1.91],[1.227,3.98],[1.246,1.23],
  [1.214,18.6],[1.239,12.9],[1.203,22.9],[1.226,15.5],[1.247,21.4],[1.231,11],
  // T0 1.25-1.30
  [1.280,1.58e-4],[1.256,4.57e-4],[1.294,2.63e-4],[1.269,7.59e-4],[1.302,1.23e-4],[1.287,3.55e-4],[1.262,2.04e-4],[1.276,5.89e-4],[1.298,8.91e-4],[1.252,3.02e-4],[1.291,1.38e-4],[1.272,5.13e-4],[1.259,1.07e-4],[1.284,2.34e-4],[1.266,3.98e-4],[1.303,6.46e-4],
  [1.267,2.19e-3],[1.292,6.17e-3],[1.254,1.32e-3],[1.278,3.63e-3],[1.300,7.94e-3],[1.261,1.82e-3],[1.285,4.68e-3],[1.273,1.1e-3],[1.296,2.82e-3],[1.258,9.33e-3],[1.281,1.51e-3],[1.264,4.17e-3],[1.289,2.45e-3],[1.251,5.37e-3],[1.275,7.24e-3],[1.303,3.16e-3],
  [1.289,.0117],[1.264,.0302],[1.277,.0692],[1.253,.02],[1.297,.0427],[1.271,.0141],[1.283,.0851],[1.258,.0251],[1.294,.0174],[1.268,.0513],[1.301,.0355],[1.279,.0105],[1.261,.0589],[1.286,.0229],[1.274,.0389],[1.251,.0776],
  [1.273,.813],[1.298,.186],[1.256,.331],[1.282,.138],[1.265,.501],[1.292,.24],[1.252,.676],[1.277,.112],[1.302,.407],[1.260,.269],[1.287,.912],[1.269,.158],[1.295,.55],[1.280,.214],[1.262,.12],[1.290,.372],
  [1.285,2.82],[1.259,6.31],[1.297,1.45],[1.270,4.17],[1.253,9.55],[1.279,2.19],[1.303,1.12],[1.264,5.13],[1.290,1.86],[1.275,3.31],[1.294,7.59],[1.257,1.7],[1.282,4.37],[1.267,1.05],[1.300,2.45],[1.288,1.26],
  [1.263,17.4],[1.288,12],[1.276,22.4],[1.300,14.8],[1.254,20],[1.294,10.5]
];

// Stability boundary Δt(T0)
const boundaryT0 = [0.078, 0.0853, 0.1177, 0.1544, 0.191, 0.233, 0.285, 0.343, 0.4215, 0.474, 0.589, 0.72, 0.825, 0.929, 1.008, 1.06, 1.113, 1.165, 1.191, 1.207, 1.2148, 1.2152];
const boundaryDt = [31, 25, 10.4, 4.25, 2.14, 1.11, 0.638, 0.363, 0.1936, 0.138, 0.0655, 0.0315, 0.01845, 0.01079, 0.0065, 0.00447, 0.00265, 0.00117, 0.000598, 0.000305, 0.0001, 0.00008];

// Axis ticks
const t0TickVals = [0.2, 0.4, 0.6, 0.8, 1, 1.2];
const t0TickText = ['0.2', '0.4', '0.6', '0.8', '1', '1.2'];
const dtTickVals = [1e-4, 1e-3, 1e-2, 0.1, 1, 10];
const dtTickText = ['1e-04', '0.001', '0.01', '0.1', '1', '10'];

const dtMinor = [];
for (let e = -4; e <= 1; e++) {
  for (let m = 2; m <= 9; m++) {
    const v = m * Math.pow(10, e);
    if (v < 26) dtMinor.push(v);
  }
}

const RED = 'rgb(222,40,36)';
const GREEN = 'rgb(122,232,36)';
const FONT = 'Liberation Sans, Arial, Helvetica, sans-serif';

const traces = [
  {
    type: 'scatter', mode: 'markers',
    x: belowPts.map(p => p[0]), y: belowPts.map(p => p[1]),
    marker: { symbol: 'x-thin-open', size: 7.5, color: GREEN, line: { width: 1, color: GREEN } },
    hoverinfo: 'skip'
  },
  {
    type: 'scatter', mode: 'markers',
    x: abovePts.map(p => p[0]), y: abovePts.map(p => p[1]),
    marker: { symbol: 'cross-thin-open', size: 6.5, color: RED, line: { width: 1, color: RED } },
    hoverinfo: 'skip'
  },
  {
    type: 'scatter', mode: 'lines',
    x: boundaryT0, y: boundaryDt,
    line: { color: 'black', width: 1.6, shape: 'spline', smoothing: 1 },
    hoverinfo: 'skip'
  }
];

const layout = {
  width: 889, height: 669,
  margin: { l: 90, r: 0, t: 41, b: 72 },
  paper_bgcolor: 'white', plot_bgcolor: 'white',
  showlegend: false,
  font: { family: FONT, size: 19, color: 'black' },
  title: {
    text: 'Δx σ=1250, ρ C<sub>V</sub>=.1 jerk/keV-cm<sup>3</sup>',
    x: 0.4665, xref: 'paper', xanchor: 'center',
    y: 0.968, yref: 'container', yanchor: 'middle',
    font: { family: FONT, size: 20, color: 'black' }
  },
  xaxis: {
    range: [0.05, 1.305],
    tickmode: 'array', tickvals: t0TickVals, ticktext: t0TickText,
    ticks: 'inside', ticklen: 6, tickwidth: 1.5, tickcolor: 'black',
    showline: true, linecolor: 'black', linewidth: 2, mirror: 'ticks',
    showgrid: false, zeroline: false,
    tickfont: { family: FONT, size: 19, color: 'black' }
  },
  yaxis: {
    type: 'log', range: [-4, Math.log10(25)],
    tickmode: 'array', tickvals: dtTickVals, ticktext: dtTickText,
    ticks: 'inside', ticklen: 8, tickwidth: 1.5, tickcolor: 'black',
    minor: { tickmode: 'array', tickvals: dtMinor, ticks: 'inside', ticklen: 4, tickwidth: 1, tickcolor: 'black', showgrid: false },
    showline: true, linecolor: 'black', linewidth: 2, mirror: false,
    showgrid: false, zeroline: false,
    ticklabelstandoff: 6,
    tickfont: { family: FONT, size: 19, color: 'black' }
  },
  annotations: [
    {
      text: 'T<sub>0</sub> (keV)', xref: 'paper', yref: 'paper',
      x: 0.508, y: -0.099, xanchor: 'center', yanchor: 'middle',
      showarrow: false, font: { family: FONT, size: 22, color: 'black' }
    },
    {
      text: 'Δt (sh)', xref: 'paper', yref: 'paper',
      x: -0.0839, y: 0.5, xanchor: 'center', yanchor: 'middle', textangle: -90,
      showarrow: false, font: { family: FONT, size: 21, color: 'black' }
    }
  ]
};

Plotly.newPlot('chart', traces, layout, { displayModeBar: false, staticPlot: true });
</script>
</body>
</html>
